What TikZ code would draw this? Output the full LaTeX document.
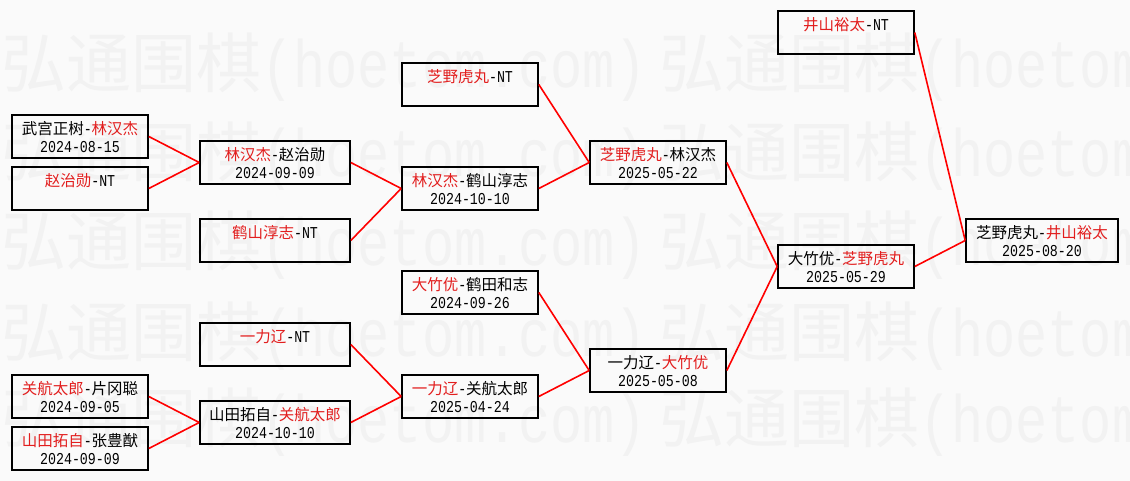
\documentclass[tikz,border=0pt]{standalone}
\usepackage{fontspec}
\setmainfont[FakeStretch=0.8]{Liberation Mono}
\newfontfamily\cjk{Noto Sans CJK SC}
\definecolor{pagebg}{RGB}{250,250,250}
\definecolor{wmgrey}{RGB}{242,242,242}
\definecolor{winred}{RGB}{226,30,30}
\newcommand{\Rn}[1]{{\cjk\fontsize{15.5}{18}\selectfont\color{winred}#1}}
\newcommand{\Bn}[1]{{\cjk\fontsize{15.5}{18}\selectfont #1}}
\newcommand{\topstrut}{\rule{0pt}{19.7pt}}
\newcommand{\wmtext}{{\cjk\fontsize{65}{70}\selectfont 弘通围棋}{\fontsize{67}{70}\selectfont(hoetom.com)}}

\begin{document}
\begin{tikzpicture}[x=1pt, y=-1pt,
    font=\fontsize{16.6}{18}\selectfont,
    matchbox/.style={draw=black, line width=1.6pt, minimum height=43pt,
                     inner sep=0pt, align=center},
    wmark/.style={text=wmgrey, inner sep=0pt, anchor=west},
    link/.style={red, line width=1.6pt}]
  \fill[pagebg] (0,0) rectangle (1130,481);
  \useasboundingbox (0,0) rectangle (1130,481);

  \begin{scope}
    \clip (0,0) rectangle (1130,481);
    \foreach \wy [count=\wi] in {67,156,245,336,422} {
      \node[wmark] (wm\wi) at (1,\wy) {\wmtext\hspace{12pt}\wmtext};
    }
  \end{scope}

  \foreach \nm/\xl/\kk/\bw/\ta/\tb in {
    r1a/11/4/138/{\Bn{武宫正树}-\Rn{林汉杰}}/{2024-08-15},
    r1b/11/6/138/{\Rn{赵治勋}-NT}/{},
    r1c/11/14/138/{\Rn{关航太郎}-\Bn{片冈聪}}/{2024-09-05},
    r1d/11/16/138/{\Rn{山田拓自}-\Bn{张豊猷}}/{2024-09-09},
    r2a/199/5/152/{\Rn{林汉杰}-\Bn{赵治勋}}/{2024-09-09},
    r2b/199/8/152/{\Rn{鹤山淳志}-NT}/{},
    r2c/199/12/152/{\Rn{一力辽}-NT}/{},
    r2d/199/15/152/{\Bn{山田拓自}-\Rn{关航太郎}}/{2024-10-10},
    r3a/401/2/138/{\Rn{芝野虎丸}-NT}/{},
    r3b/401/6/138/{\Rn{林汉杰}-\Bn{鹤山淳志}}/{2024-10-10},
    r3c/401/10/138/{\Rn{大竹优}-\Bn{鹤田和志}}/{2024-09-26},
    r3d/401/14/138/{\Rn{一力辽}-\Bn{关航太郎}}/{2025-04-24},
    r4a/589/5/138/{\Rn{芝野虎丸}-\Bn{林汉杰}}/{2025-05-22},
    r4b/589/13/138/{\Bn{一力辽}-\Rn{大竹优}}/{2025-05-08},
    r5a/777/0/138/{\Rn{井山裕太}-NT}/{},
    r5b/777/9/138/{\Bn{大竹优}-\Rn{芝野虎丸}}/{2025-05-29},
    fin/965/8/154/{\Bn{芝野虎丸}-\Rn{井山裕太}}/{2025-08-20}} {
    \node[matchbox, minimum width={(\bw-2)*1pt}] (\nm)
      at ({\xl+\bw/2},{\kk*26+32.5}) {\topstrut\ta\\\strut\tb};
  }

  \foreach \ca/\cb in {r1a/r2a, r1b/r2a, r1c/r2d, r1d/r2d,
                       r2a/r3b, r2b/r3b, r2c/r3d, r2d/r3d,
                       r3a/r4a, r3b/r4a, r3c/r4b, r3d/r4b,
                       r4a/r5b, r4b/r5b, r5a/fin, r5b/fin} {
    \draw[link] (\ca.east) -- (\cb.west);
  }
\end{tikzpicture}
\end{document}
